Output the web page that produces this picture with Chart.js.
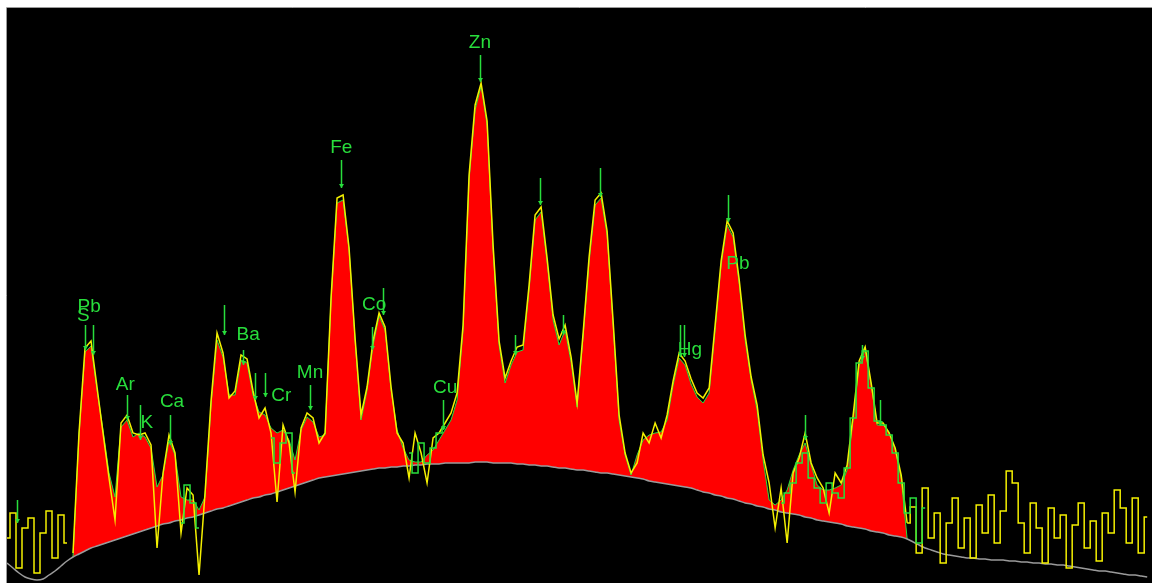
<!DOCTYPE html>
<html>
<head>
<meta charset="utf-8">
<script src="https://cdn.jsdelivr.net/npm/chart.js@4.4.1/dist/chart.umd.min.js"></script>
<style>
  html, body { margin: 0; padding: 0; background: #fff; }
  #wrap { width: 1152px; height: 583px; }
</style>
</head>
<body>
<div id="wrap"><canvas id="spectrum"></canvas></div>
<script>
// counts per channel (channel = 6 px step)
const background = [
  20, 15, 10, 6, 4, 3, 4, 8, 12, 17,
  22, 26, 29, 32, 35, 37, 39, 41, 43, 45,
  47, 49, 51, 53, 55, 57, 59, 60, 62, 63,
  65, 66, 68, 70, 72, 74, 75, 77, 79, 81,
  83, 85, 86, 88, 89, 91, 93, 95, 97, 99,
  101, 103, 105, 106, 107, 108, 109, 110, 111, 112,
  113, 114, 115, 115, 116, 116, 117, 117, 118, 118,
  119, 119, 119, 120, 120, 120, 120, 120, 121, 121,
  121, 120, 120, 120, 120, 119, 119, 118, 118, 117,
  117, 116, 115, 115, 114, 113, 113, 112, 111, 110,
  110, 109, 108, 107, 106, 105, 104, 102, 101, 100,
  99, 98, 97, 96, 95, 93, 91, 90, 88, 87,
  85, 84, 82, 80, 79, 77, 76, 74, 73, 71,
  70, 69, 68, 66, 65, 63, 62, 61, 60, 59,
  57, 56, 55, 54, 52, 51, 50, 48, 47, 46,
  44, 41, 38, 35, 33, 31, 29, 28, 27, 26,
  25, 25, 24, 24, 23, 23, 23, 22, 22, 21,
  21, 20, 20, 19, 19, 18, 18, 17, 16, 15,
  14, 13, 12, 12, 11, 10, 9, 8, 8, 7,
  6
];

const fitted = [
  null, null, null, null, null, null, null, null, null, null,
  null, 26, 148, 231, 237, 193, 153, 110, 86, 156,
  163, 146, 150, 146, 135, 96, 108, 143, 128, 86,
  83, 83, 73, 86, 178, 243, 226, 188, 188, 223,
  220, 188, 171, 168, 155, 150, 153, 143, 123, 153,
  166, 161, 146, 148, 283, 380, 383, 333, 243, 163,
  193, 238, 267, 253, 193, 153, 135, 123, 121, 121,
  128, 133, 143, 153, 163, 183, 253, 403, 473, 497,
  458, 333, 238, 200, 218, 231, 233, 293, 363, 371,
  321, 263, 238, 253, 221, 176, 246, 321, 378, 385,
  348, 258, 163, 128, 108, 128, 143, 148, 150, 151,
  163, 198, 225, 218, 199, 186, 180, 190, 253, 318,
  358, 346, 300, 243, 203, 173, 123, 83, 78, 83,
  93, 113, 128, 140, 118, 98, 93, 93, 95, 98,
  113, 163, 218, 233, 198, 158, 158, 151, 133, 105,
  44, null, null, null, null, null, null, null, null, null,
  null, null, null, null, null, null, null, null, null, null,
  null, null, null, null, null, null, null, null, null, null,
  null, null, null, null, null, null, null, null, null, null,
  null
];

const measured = [
  45, 70, 15, 55, 65, 10, 50, 72, 25, 68,
  40, 30, 150, 235, 242, 196, 150, 105, 63, 160,
  168, 150, 148, 150, 138, 35, 110, 148, 130, 50,
  95, 88, 8, 90, 182, 250, 230, 185, 192, 228,
  224, 192, 165, 175, 150, 81, 158, 140, 91, 155,
  170, 165, 140, 150, 285, 385, 388, 335, 245, 168,
  196, 242, 270, 256, 196, 150, 140, 105, 150, 130,
  100, 145, 150, 160, 170, 190, 258, 408, 478, 500,
  462, 338, 242, 205, 222, 236, 238, 298, 368, 376,
  325, 268, 244, 258, 226, 180, 250, 326, 383, 390,
  352, 262, 168, 130, 110, 120, 150, 140, 160, 145,
  168, 202, 230, 222, 204, 190, 185, 195, 258, 322,
  362, 350, 304, 248, 206, 178, 128, 100, 55, 95,
  40, 110, 125, 150, 120, 105, 95, 70, 110, 100,
  118, 168, 222, 236, 200, 160, 160, 150, 135, 108,
  60, 76, 30, 95, 45, 70, 20, 60, 85, 35,
  65, 25, 78, 50, 88, 40, 72, 112, 100, 60,
  30, 80, 55, 20, 75, 45, 68, 15, 58, 80,
  35, 62, 22, 70, 50, 93, 75, 40, 85, 30,
  66
];

const greenTrace = [
  null, null, null, null, null, null, null, null, null, null,
  null, null, null, null, null, null, null, null, null, null,
  null, null, null, null, null, null, null, null, null, 60,
  98, 80, 55, null, null, null, null, null, null, null,
  null, null, null, null, 145, 120, 140, 150, 110, null,
  null, null, null, null, null, null, null, null, null, null,
  null, null, null, null, null, null, null, 130, 110, 140,
  120, 135, 150, 155, null, null, null, null, null, null,
  null, null, null, null, null, null, null, null, null, null,
  null, null, null, null, null, null, null, null, null, null,
  null, null, null, null, null, null, null, null, null, null,
  null, null, null, null, null, null, null, null, null, null,
  null, null, null, null, null, null, null, null, null, 80,
  90, 100, 120, 130, 105, 95, 80, 100, 90, 85,
  115, 165, 220, 232, 195, 162, 158, 148, 130, 100,
  70, 85, 40, 75, null, null, null, null, null, null,
  null, null, null, null, null, null, null, null, null, null,
  null, null, null, null, null, null, null, null, null, null,
  null, null, null, null, null, null, null, null, null, null,
  null
];

// first and last channel of the fitted peak region
const peakStart = 11;
const peakEnd = 150;

// element line markers: channel, top count, tip count
const markerX   = [78.8, 55.7, 62.7, 60.8, 13, 14.3, 20, 22.2, 27.2, 39.3, 36.2, 43, 41.3, 50.5, 72.7, 88.8, 98.8, 84.7, 92.7, 112.2, 112.8, 120.2, 133, 142.5, 145.5, 1.7];
const markerTop = [528, 423, 295, 256, 258, 258, 188, 178, 168, 233, 278, 210, 210, 198, 183, 405, 415, 248, 268, 258, 258, 388, 168, 238, 183, 83];
const markerTip = [501, 395, 268, 233, 233, 228, 163, 143, 138, 218, 248, 186, 183, 173, 153, 378, 386, 228, 248, 226, 226, 361, 143, 223, 158, 60];

const elementNames = ['Zn', 'Fe', 'Co', 'Pb', 'S', 'Ar', 'K', 'Ca', 'Ba', 'Cr', 'Mn', 'Cu', 'Hg', 'Pb'];
const elementX     = [78.8, 55.7, 61.2, 13.7, 12.7, 19.7, 23.3, 27.5, 40.2, 45.7, 50.5, 73, 113.8, 121.8];
const elementY     = [540, 435, 278, 276, 267, 198, 160, 181, 248, 187, 210, 195, 233, 319];

const GREEN = 'rgb(40, 222, 60)';
const YELLOW = '#f4f000';
const toPoints = arr => arr.map((v, i) => ({ x: i, y: v }));
const inPeaks = i => i >= peakStart && i <= peakEnd;

const plotFrame = {
  id: 'plotFrame',
  beforeDraw(chart) {
    const { ctx, chartArea: a } = chart;
    ctx.save();
    ctx.fillStyle = '#000';
    ctx.fillRect(a.left, a.top, a.right - a.left, a.bottom - a.top);
    ctx.strokeStyle = '#9a9a9a';
    ctx.lineWidth = 1;
    ctx.beginPath();
    ctx.moveTo(a.left - 0.5, a.bottom);
    ctx.lineTo(a.left - 0.5, a.top - 0.5);
    ctx.lineTo(a.right, a.top - 0.5);
    ctx.stroke();
    ctx.restore();
  }
};

const elementMarks = {
  id: 'elementMarks',
  afterDatasetsDraw(chart) {
    const { ctx, scales: { x, y } } = chart;
    ctx.save();
    ctx.strokeStyle = GREEN;
    ctx.fillStyle = GREEN;
    ctx.lineWidth = 1.5;
    markerX.forEach((mx, i) => {
      const px = Math.round(x.getPixelForValue(mx)) + 0.5;
      const top = y.getPixelForValue(markerTop[i]);
      const tip = y.getPixelForValue(markerTip[i]);
      ctx.beginPath();
      ctx.moveTo(px, top);
      ctx.lineTo(px, tip);
      ctx.stroke();
      ctx.beginPath();
      ctx.moveTo(px - 2.5, tip - 4);
      ctx.lineTo(px + 2.5, tip - 4);
      ctx.lineTo(px, tip);
      ctx.closePath();
      ctx.fill();
    });
    ctx.font = '19px "Liberation Sans", Arial, sans-serif';
    ctx.textAlign = 'center';
    ctx.textBaseline = 'middle';
    elementNames.forEach((name, i) => {
      ctx.fillText(name, x.getPixelForValue(elementX[i]), y.getPixelForValue(elementY[i]));
    });
    ctx.restore();
  }
};

new Chart(document.getElementById('spectrum'), {
  type: 'line',
  data: {
    datasets: [
      {
        label: 'Background',
        data: toPoints(background),
        borderColor: '#9a9a9a',
        borderWidth: 1.5,
        pointRadius: 0,
        tension: 0.3,
        fill: false,
        order: 3
      },
      {
        label: 'Fit',
        data: toPoints(fitted),
        borderColor: GREEN,
        borderWidth: 1,
        backgroundColor: '#ff0000',
        pointRadius: 0,
        fill: 0,
        order: 4
      },
      {
        label: 'Measured (peaks)',
        data: toPoints(measured.map((v, i) => (inPeaks(i) ? v : null))),
        borderColor: YELLOW,
        borderWidth: 1.5,
        pointRadius: 0,
        fill: false,
        order: 2
      },
      {
        label: 'Measured (tails)',
        data: toPoints(measured.map((v, i) => (inPeaks(i) && i !== peakEnd ? null : v))),
        borderColor: YELLOW,
        borderWidth: 1.5,
        pointRadius: 0,
        stepped: 'middle',
        fill: false,
        order: 1
      },
      {
        label: 'Residual',
        data: toPoints(greenTrace),
        borderColor: GREEN,
        borderWidth: 1.5,
        pointRadius: 0,
        stepped: 'middle',
        fill: false,
        order: 0
      }
    ]
  },
  options: {
    responsive: true,
    maintainAspectRatio: false,
    animation: false,
    layout: { padding: { top: 8, left: 7, right: 0, bottom: 0 } },
    plugins: {
      legend: { display: false },
      tooltip: { enabled: false }
    },
    scales: {
      x: { type: 'linear', min: 0, max: 190.8, display: false },
      y: { min: 0, max: 575, display: false }
    }
  },
  plugins: [plotFrame, elementMarks]
});
</script>
</body>
</html>
